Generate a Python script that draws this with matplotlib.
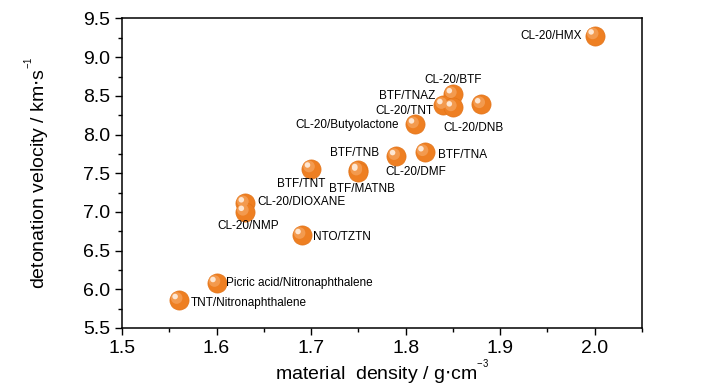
import matplotlib.pyplot as plt
from matplotlib.ticker import MultipleLocator
from matplotlib.transforms import offset_copy

plt.rcParams['font.family'] = ['Liberation Sans', 'DejaVu Sans']

# dados
nomes = ['CL-20/HMX', 'CL-20/BTF', 'BTF/TNAZ', 'CL-20/TNT', 'CL-20/DNB',
         'CL-20/Butyolactone', 'CL-20/DMF', 'BTF/TNA', 'BTF/TNT', 'BTF/TNB',
         'BTF/MATNB', 'CL-20/DIOXANE', 'CL-20/NMP', 'NTO/TZTN',
         'Picric acid/Nitronaphthalene', 'TNT/Nitronaphthalene']
densidade = [2.00, 1.85, 1.84, 1.85, 1.88, 1.81, 1.79, 1.82, 1.70, 1.75,
             1.75, 1.63, 1.63, 1.69, 1.60, 1.56]
velocidade = [9.28, 8.52, 8.38, 8.35, 8.39, 8.13, 7.72, 7.77, 7.56, 7.54,
              7.52, 7.11, 7.00, 6.70, 6.08, 5.86]

# posição dos rótulos (offset em pontos, alinhamento horizontal)
rotulos = {
    'CL-20/HMX': ((-9, 0), 'right'),
    'CL-20/BTF': ((0, 10.6), 'center'),
    'BTF/TNAZ': ((-5.5, 6.5), 'right'),
    'CL-20/TNT': ((-13.7, -2.4), 'right'),
    'CL-20/DNB': ((-5.8, -17), 'center'),
    'CL-20/Butyolactone': ((-11.7, -0.7), 'right'),
    'CL-20/DMF': ((14.2, -11.5), 'center'),
    'BTF/TNA': ((9.6, -2.2), 'left'),
    'BTF/TNT': ((-7.5, -11.2), 'center'),
    'BTF/TNB': ((-2.4, 12.7), 'center'),
    'BTF/MATNB': ((2.5, -12.7), 'center'),
    'CL-20/DIOXANE': ((8.9, 1.2), 'left'),
    'CL-20/NMP': ((2.7, -10.3), 'center'),
    'NTO/TZTN': ((8.4, -1.7), 'left'),
    'Picric acid/Nitronaphthalene': ((6.5, 0.4), 'left'),
    'TNT/Nitronaphthalene': ((8.4, -2.4), 'left'),
}

fig = plt.figure(figsize=(7.28, 3.9), dpi=100)
ax = fig.add_axes([0.1676, 0.159, 0.7143, 0.7936])

# esferas: base laranja + brilho deslocado
ax.scatter(densidade, velocidade, s=190, color='#EE7F22', edgecolors='#E27419',
           linewidths=0.5, zorder=3)
meio = offset_copy(ax.transData, fig=fig, x=-1.5, y=1.5, units='points')
ax.scatter(densidade, velocidade, s=70, color='#F39A4E', edgecolors='none',
           zorder=4, transform=meio)
brilho = offset_copy(ax.transData, fig=fig, x=-2.6, y=2.6, units='points')
ax.scatter(densidade, velocidade, s=16, color='#FDE6D2', edgecolors='none',
           zorder=5, transform=brilho)

for n, x, y in zip(nomes, densidade, velocidade):
    off, ha = rotulos[n]
    ax.annotate(n, (x, y), xytext=off, textcoords='offset points',
                ha=ha, va='center', fontsize=8.5, zorder=7)

ax.set_xlim(1.5, 2.05)
ax.set_ylim(5.5, 9.5)
ax.set_xticks([1.5, 1.6, 1.7, 1.8, 1.9, 2.0])
ax.set_xticklabels(['1.5', '1.6', '1.7', '1.8', '1.9', '2.0'])
ax.xaxis.set_minor_locator(MultipleLocator(0.05))
ax.yaxis.set_major_locator(MultipleLocator(0.5))
ax.yaxis.set_minor_locator(MultipleLocator(0.25))
ax.tick_params(which='major', direction='out', length=5, width=1, labelsize=14,
               top=False, right=False)
ax.tick_params(which='minor', direction='out', length=3, width=1,
               top=False, right=False)
for s in ax.spines.values():
    s.set_linewidth(1.1)

ax.set_xlabel('material  density / g$\\cdot$cm$^{\\mathregular{^{-3}}}$', fontsize=14, labelpad=1)
ax.set_ylabel('detonation velocity / km$\\cdot$s$^{\\mathregular{^{-1}}}$', fontsize=14, labelpad=22)

fig.savefig('out.png', dpi=100)
